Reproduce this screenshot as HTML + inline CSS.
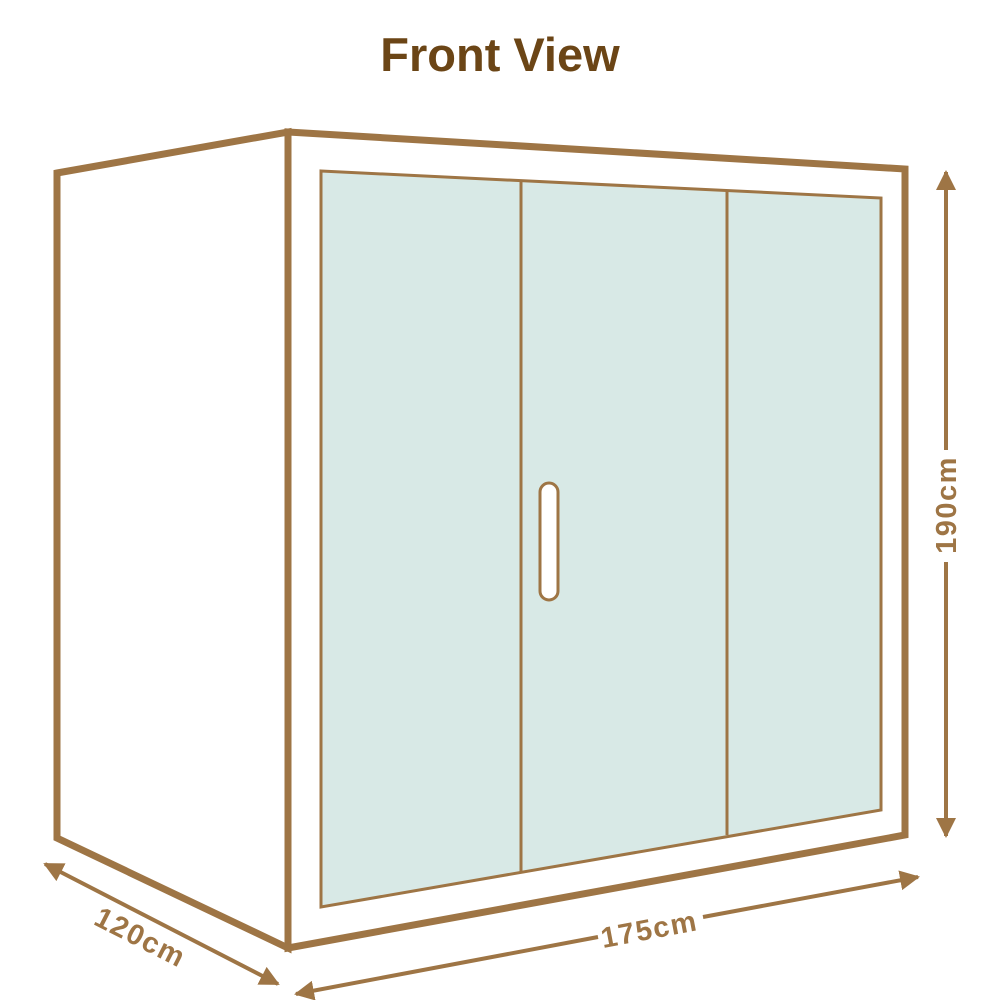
<!DOCTYPE html>
<html><head><meta charset="utf-8"><style>
html,body{margin:0;padding:0;background:#fff;width:1000px;height:1000px;overflow:hidden}
</style></head><body>
<svg width="1000" height="1000" viewBox="0 0 1000 1000" xmlns="http://www.w3.org/2000/svg">
<defs>
<marker id="ah" viewBox="0 0 10 10" refX="9" refY="5" markerWidth="5" markerHeight="5" orient="auto-start-reverse">
<path d="M0,0 L10,5 L0,10 z" fill="#9e7545"/></marker>
</defs>
<text x="500" y="71" text-anchor="middle" font-family="Liberation Sans, sans-serif" font-weight="bold" font-size="47" fill="#6b4516">Front View</text>
<g fill="none" stroke="#9e7545" stroke-width="7" stroke-linejoin="miter">
<polygon points="57,173 288,132 288,948 57,838" fill="#fff"/>
<polygon points="288,132 905,169 905,835 288,948" fill="#fff"/>
</g>
<polygon points="321,171 881,198 881,810 321,907" fill="#d8e9e6" stroke="#9e7545" stroke-width="3"/>
<line x1="521" y1="182" x2="521" y2="872" stroke="#9e7545" stroke-width="3"/>
<line x1="727" y1="191" x2="727" y2="835" stroke="#9e7545" stroke-width="3"/>
<rect x="540" y="483" width="18" height="117" rx="9" fill="#fff" stroke="#9e7545" stroke-width="3"/>
<g stroke="#9e7545" stroke-width="4" fill="none">
<line x1="946" y1="172" x2="946" y2="450" marker-start="url(#ah)"/>
<line x1="946" y1="562" x2="946" y2="836" marker-end="url(#ah)"/>
<line x1="296" y1="994" x2="598" y2="937" marker-start="url(#ah)"/>
<line x1="703" y1="917" x2="918" y2="877" marker-end="url(#ah)"/>
<line x1="45" y1="864" x2="278" y2="984" marker-start="url(#ah)" marker-end="url(#ah)"/>
</g>
<g font-family="Liberation Sans, sans-serif" font-weight="bold" font-size="29" letter-spacing="1.5" fill="#9e7545" text-anchor="middle">
<text transform="translate(956,505) rotate(-90)">190cm</text>
<text transform="translate(651,939) rotate(-10.7)">175cm</text>
<text transform="translate(136,946) rotate(27)">120cm</text>
</g>
</svg>
</body></html>
